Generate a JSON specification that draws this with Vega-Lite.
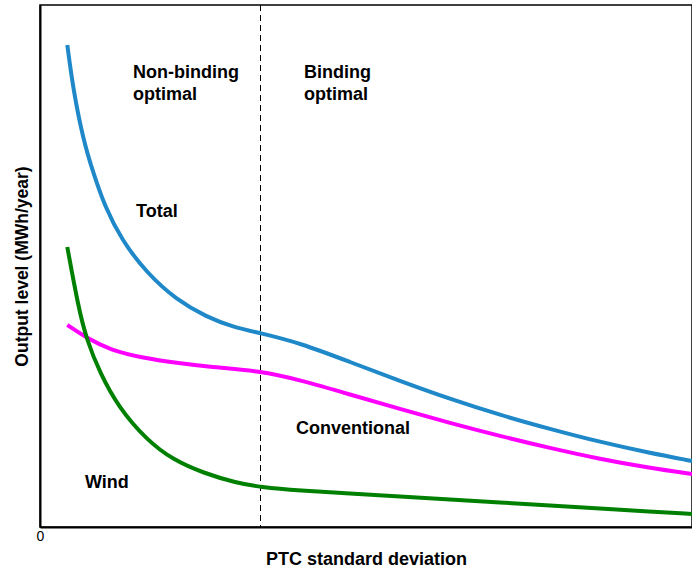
{
  "$schema": "https://vega.github.io/schema/vega-lite/v6.json",
  "autosize": "none",
  "padding": {"left": 40, "top": 5, "right": 0, "bottom": 44},
  "width": 652,
  "height": 522,
  "background": "white",
  "config": {
    "font": "Liberation Sans",
    "view": {"stroke": "#000000", "strokeWidth": 1.5}
  },
  "datasets": {
    "series": [
      {"series": "Total", "x": 27.3, "y": 482},
      {"series": "Total", "x": 33.3, "y": 437},
      {"series": "Total", "x": 43.3, "y": 387},
      {"series": "Total", "x": 53.3, "y": 354},
      {"series": "Total", "x": 65, "y": 320},
      {"series": "Total", "x": 81.7, "y": 287},
      {"series": "Total", "x": 106.7, "y": 254},
      {"series": "Total", "x": 136.7, "y": 227},
      {"series": "Total", "x": 166.7, "y": 210},
      {"series": "Total", "x": 193, "y": 200},
      {"series": "Total", "x": 220, "y": 194},
      {"series": "Total", "x": 260, "y": 184},
      {"series": "Total", "x": 310, "y": 165},
      {"series": "Total", "x": 360, "y": 146},
      {"series": "Total", "x": 410, "y": 128},
      {"series": "Total", "x": 460, "y": 112},
      {"series": "Total", "x": 510, "y": 98},
      {"series": "Total", "x": 560, "y": 85},
      {"series": "Total", "x": 610, "y": 74},
      {"series": "Total", "x": 652, "y": 66},
      {"series": "Conventional", "x": 27.3, "y": 202},
      {"series": "Conventional", "x": 46.7, "y": 189},
      {"series": "Conventional", "x": 70, "y": 177},
      {"series": "Conventional", "x": 103.3, "y": 169},
      {"series": "Conventional", "x": 136.7, "y": 164},
      {"series": "Conventional", "x": 170, "y": 160},
      {"series": "Conventional", "x": 220, "y": 156},
      {"series": "Conventional", "x": 260, "y": 147},
      {"series": "Conventional", "x": 310, "y": 132.5},
      {"series": "Conventional", "x": 360, "y": 118},
      {"series": "Conventional", "x": 410, "y": 104},
      {"series": "Conventional", "x": 460, "y": 91},
      {"series": "Conventional", "x": 510, "y": 79},
      {"series": "Conventional", "x": 560, "y": 68},
      {"series": "Conventional", "x": 610, "y": 59},
      {"series": "Conventional", "x": 652, "y": 53},
      {"series": "Wind", "x": 27.3, "y": 280},
      {"series": "Wind", "x": 38.3, "y": 220},
      {"series": "Wind", "x": 46.7, "y": 187},
      {"series": "Wind", "x": 60, "y": 154},
      {"series": "Wind", "x": 78.3, "y": 120},
      {"series": "Wind", "x": 106.7, "y": 87},
      {"series": "Wind", "x": 133.3, "y": 67},
      {"series": "Wind", "x": 163.3, "y": 54},
      {"series": "Wind", "x": 196.7, "y": 44},
      {"series": "Wind", "x": 220, "y": 40},
      {"series": "Wind", "x": 260, "y": 36.5},
      {"series": "Wind", "x": 310, "y": 33.5},
      {"series": "Wind", "x": 360, "y": 30.5},
      {"series": "Wind", "x": 410, "y": 27.5},
      {"series": "Wind", "x": 460, "y": 24.5},
      {"series": "Wind", "x": 510, "y": 21.5},
      {"series": "Wind", "x": 560, "y": 18.5},
      {"series": "Wind", "x": 610, "y": 15.5},
      {"series": "Wind", "x": 652, "y": 13}
    ],
    "labels": [
      {"label": "Non-binding", "x": 93, "y": 454},
      {"label": "optimal", "x": 93, "y": 432},
      {"label": "Binding", "x": 264, "y": 454},
      {"label": "optimal", "x": 264, "y": 432},
      {"label": "Total", "x": 96, "y": 315},
      {"label": "Conventional", "x": 256, "y": 98},
      {"label": "Wind", "x": 45, "y": 44}
    ],
    "threshold": [{"x": 220.5}]
  },
  "layer": [
    {
      "data": {"name": "threshold"},
      "mark": {"type": "rule", "color": "#000000", "strokeWidth": 1, "strokeDash": [6, 4]},
      "encoding": {
        "x": {"field": "x", "type": "quantitative", "scale": {"domain": [0, 652], "nice": false, "zero": false},
          "axis": {"values": [0], "ticks": false, "grid": false, "domainColor": "#000000", "domainWidth": 2,
            "labelFontSize": 14, "labelColor": "#000000", "labelPadding": 2, "labelFlush": false,
            "title": "PTC standard deviation", "titleFontSize": 18, "titleFontWeight": "bold", "titleColor": "#000000", "titlePadding": 7}}
      }
    },
    {
      "data": {"name": "series"},
      "mark": {"type": "line", "strokeWidth": 4, "interpolate": "basis"},
      "encoding": {
        "x": {"field": "x", "type": "quantitative"},
        "y": {"field": "y", "type": "quantitative", "scale": {"domain": [0, 522], "nice": false, "zero": false},
          "axis": {"labels": false, "ticks": false, "grid": false, "domainColor": "#000000", "domainWidth": 2,
            "title": "Output level (MWh/year)", "titleFontSize": 17.5, "titleFontWeight": "bold", "titleColor": "#000000", "titlePadding": 9}},
        "color": {"field": "series", "type": "nominal",
          "scale": {"domain": ["Total", "Conventional", "Wind"], "range": ["#1e88c8", "#ff00ff", "#008000"]},
          "legend": null}
      }
    },
    {
      "data": {"name": "labels"},
      "mark": {"type": "text", "align": "left", "baseline": "middle", "fontSize": 18, "fontWeight": "bold", "color": "#000000"},
      "encoding": {
        "x": {"field": "x", "type": "quantitative"},
        "y": {"field": "y", "type": "quantitative"},
        "text": {"field": "label"}
      }
    }
  ]
}
